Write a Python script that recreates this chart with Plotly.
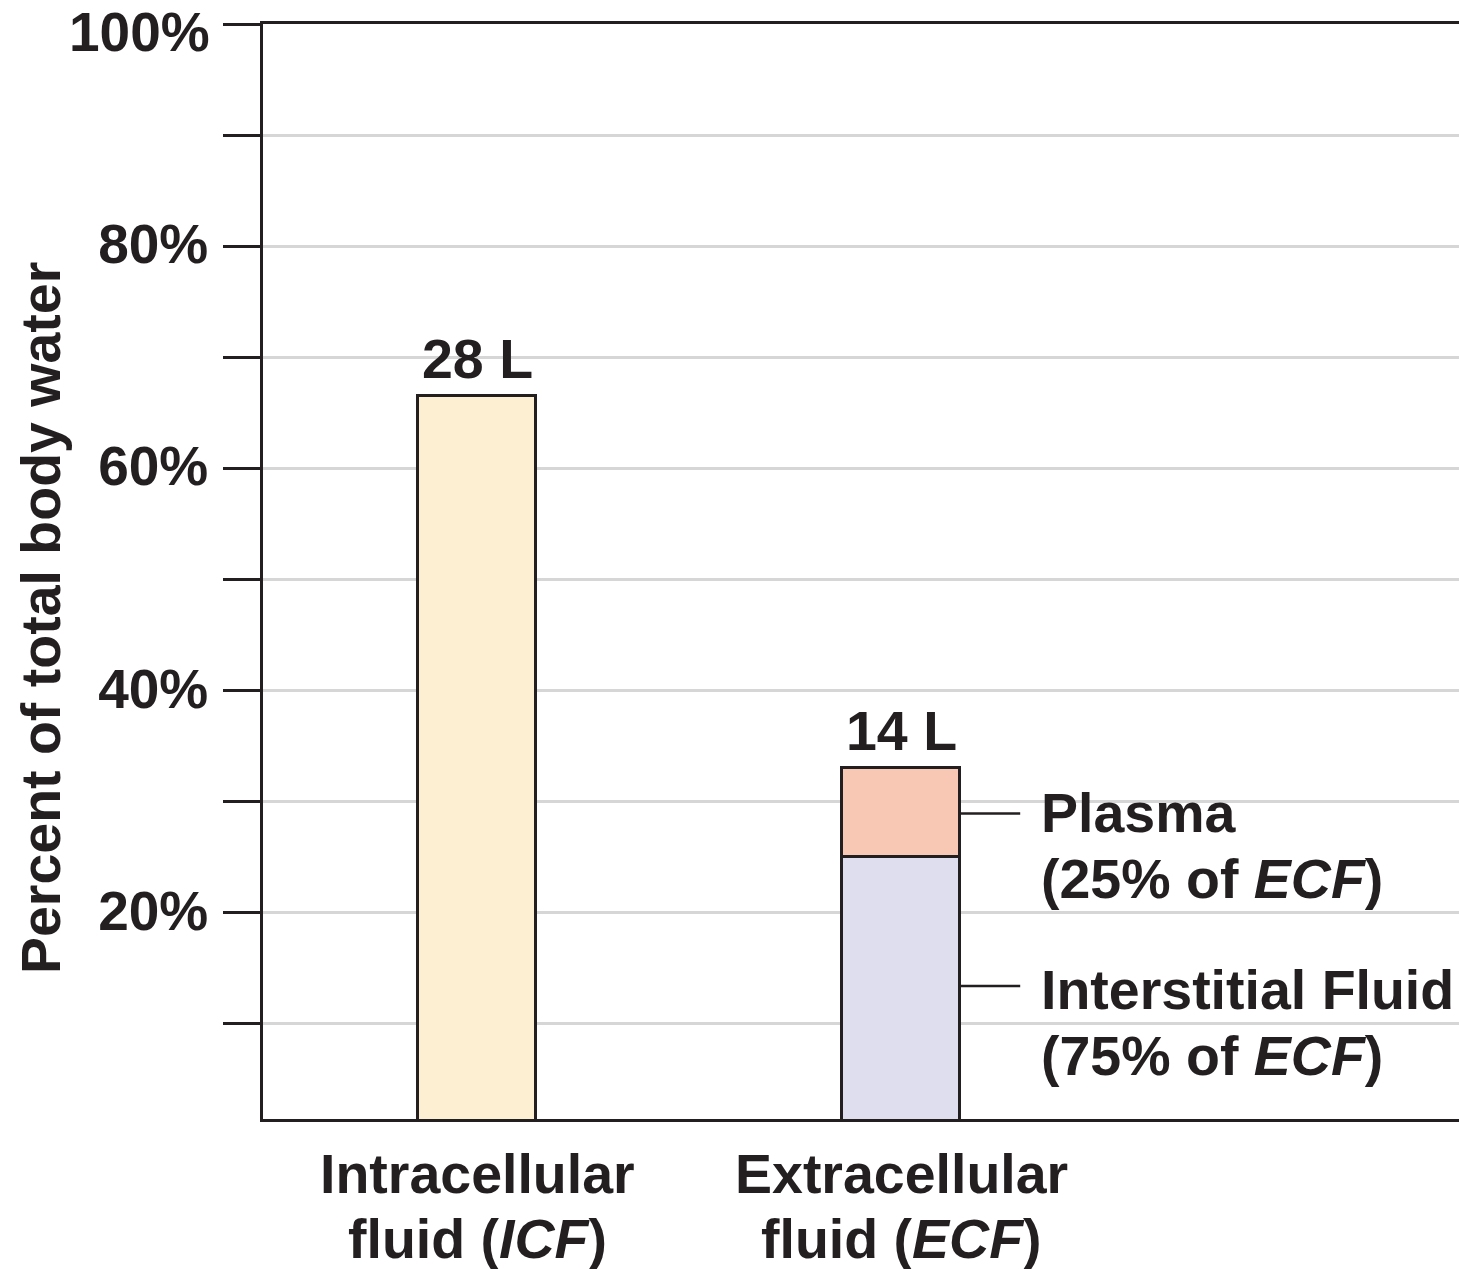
import plotly.graph_objects as go

# ---- data ----
cat_line1 = ["Intracellular", "Extracellular"]
cat_line2 = ["fluid (<i>ICF</i>)", "fluid (<i>ECF</i>)"]
cat_pos = [0, 1]
icf_pct = [66.5]
interstitial_pct = [25.0]
plasma_pct = [8.0]
volume_labels = ["28 L", "14 L"]
tick_vals = [10, 20, 30, 40, 50, 60, 70, 80, 90, 100]
tick_text = ["", "20%", "", "40%", "", "60%", "", "80%", "", "100%"]
plasma_text = ["Plasma", "(25% of <i>ECF</i>)"]
interstitial_text = ["Interstitial Fluid", "(75% of <i>ECF</i>)"]

# ---- style ----
FONT = "Liberation Sans, Arial, Helvetica, sans-serif"
TXT = "#231f20"
FS = 55.5
BW = 0.278

fig = go.Figure()
fig.add_trace(go.Bar(x=[cat_pos[0]], y=icf_pct, width=BW,
                     marker=dict(color="#fdefd2", line=dict(color=TXT, width=3)),
                     showlegend=False, hoverinfo="skip"))
fig.add_trace(go.Bar(x=[cat_pos[1]], y=interstitial_pct, width=BW,
                     marker=dict(color="#dfdeee", line=dict(color=TXT, width=3)),
                     showlegend=False, hoverinfo="skip"))
fig.add_trace(go.Bar(x=[cat_pos[1]], y=plasma_pct, width=BW,
                     marker=dict(color="#f9c8b5", line=dict(color=TXT, width=3)),
                     showlegend=False, hoverinfo="skip"))

totals = [icf_pct[0], interstitial_pct[0] + plasma_pct[0]]
ann = []
for i, lab in enumerate(volume_labels):
    ann.append(dict(x=cat_pos[i], y=totals[i], xref="x", yref="y", text=lab,
                    showarrow=False, yanchor="bottom", yshift=4,
                    font=dict(family=FONT, size=FS, color=TXT, weight="bold")))

# category labels (two lines each)
for i in range(2):
    ann.append(dict(x=cat_pos[i], y=-0.05, xref="x", yref="paper", text=cat_line1[i],
                    showarrow=False, yanchor="middle",
                    font=dict(family=FONT, size=FS, color=TXT, weight="bold")))
    ann.append(dict(x=cat_pos[i], y=-0.1093, xref="x", yref="paper", text=cat_line2[i],
                    showarrow=False, yanchor="middle",
                    font=dict(family=FONT, size=FS, color=TXT, weight="bold")))

# side labels with leader lines
right_edge = cat_pos[1] + BW / 2
line_end = cat_pos[1] + 0.281
text_x = cat_pos[1] + 0.326
plasma_mid = interstitial_pct[0] + plasma_pct[0] * 0.49
inter_mid = interstitial_pct[0] * 0.535
shapes = []
for ymid, lines, dy in [(plasma_mid, plasma_text, 0), (inter_mid, interstitial_text, -4)]:
    shapes.append(dict(type="line", xref="x", yref="y", x0=right_edge, x1=line_end,
                       y0=ymid, y1=ymid, line=dict(color=TXT, width=2.5)))
    ann.append(dict(x=text_x, y=ymid, xref="x", yref="y", text=lines[0],
                    showarrow=False, xanchor="left", yanchor="middle", yshift=dy,
                    font=dict(family=FONT, size=FS, color=TXT, weight="bold")))
    ann.append(dict(x=text_x, y=ymid, xref="x", yref="y", text=lines[1],
                    showarrow=False, xanchor="left", yanchor="middle", yshift=dy - 66,
                    font=dict(family=FONT, size=FS, color=TXT, weight="bold")))

# top tick label (sits a little below its tick in the reference)
ann.append(dict(x=-0.0426, y=tick_vals[-1], xref="paper", yref="y", text=tick_text[-1],
                showarrow=False, xanchor="right", yanchor="middle", yshift=-8,
                font=dict(family=FONT, size=55, color=TXT, weight="bold")))
axis_tick_text = tick_text[:-1] + [""]

# y axis title
ann.append(dict(x=-0.1856, y=0.4575, xref="paper", yref="paper",
                xanchor="center", yanchor="middle",
                text="Percent of total body water", textangle=-90, showarrow=False,
                font=dict(family=FONT, size=FS, color=TXT, weight="bold")))

fig.update_layout(
    width=1459, height=1269,
    margin=dict(l=263, r=0, t=24, b=150, autoexpand=False),
    paper_bgcolor="white", plot_bgcolor="white",
    barmode="stack", bargap=0,
    annotations=ann, shapes=shapes,
    xaxis=dict(range=[-0.505, 2.316], showticklabels=False, ticks="",
               showgrid=False, zeroline=False, showline=True, mirror=True,
               linecolor=TXT, linewidth=2.5, automargin=False),
    yaxis=dict(range=[1.4, 100], tickvals=tick_vals, ticktext=axis_tick_text,
               ticks="outside", ticklen=37, tickwidth=2.5, tickcolor=TXT,
               ticklabelstandoff=4, ticklabelshift=-2,
               ticklabeloverflow="allow", automargin=False,
               tickfont=dict(family=FONT, size=55, color=TXT, weight="bold"),
               showgrid=True, gridcolor="#d6d6d6", gridwidth=2.5,
               zeroline=False, showline=True, linecolor=TXT, linewidth=2.5),
)

fig.write_html("out.html", config={"displayModeBar": False},
               post_script="document.body.style.margin='0';document.body.style.overflow='hidden';")
